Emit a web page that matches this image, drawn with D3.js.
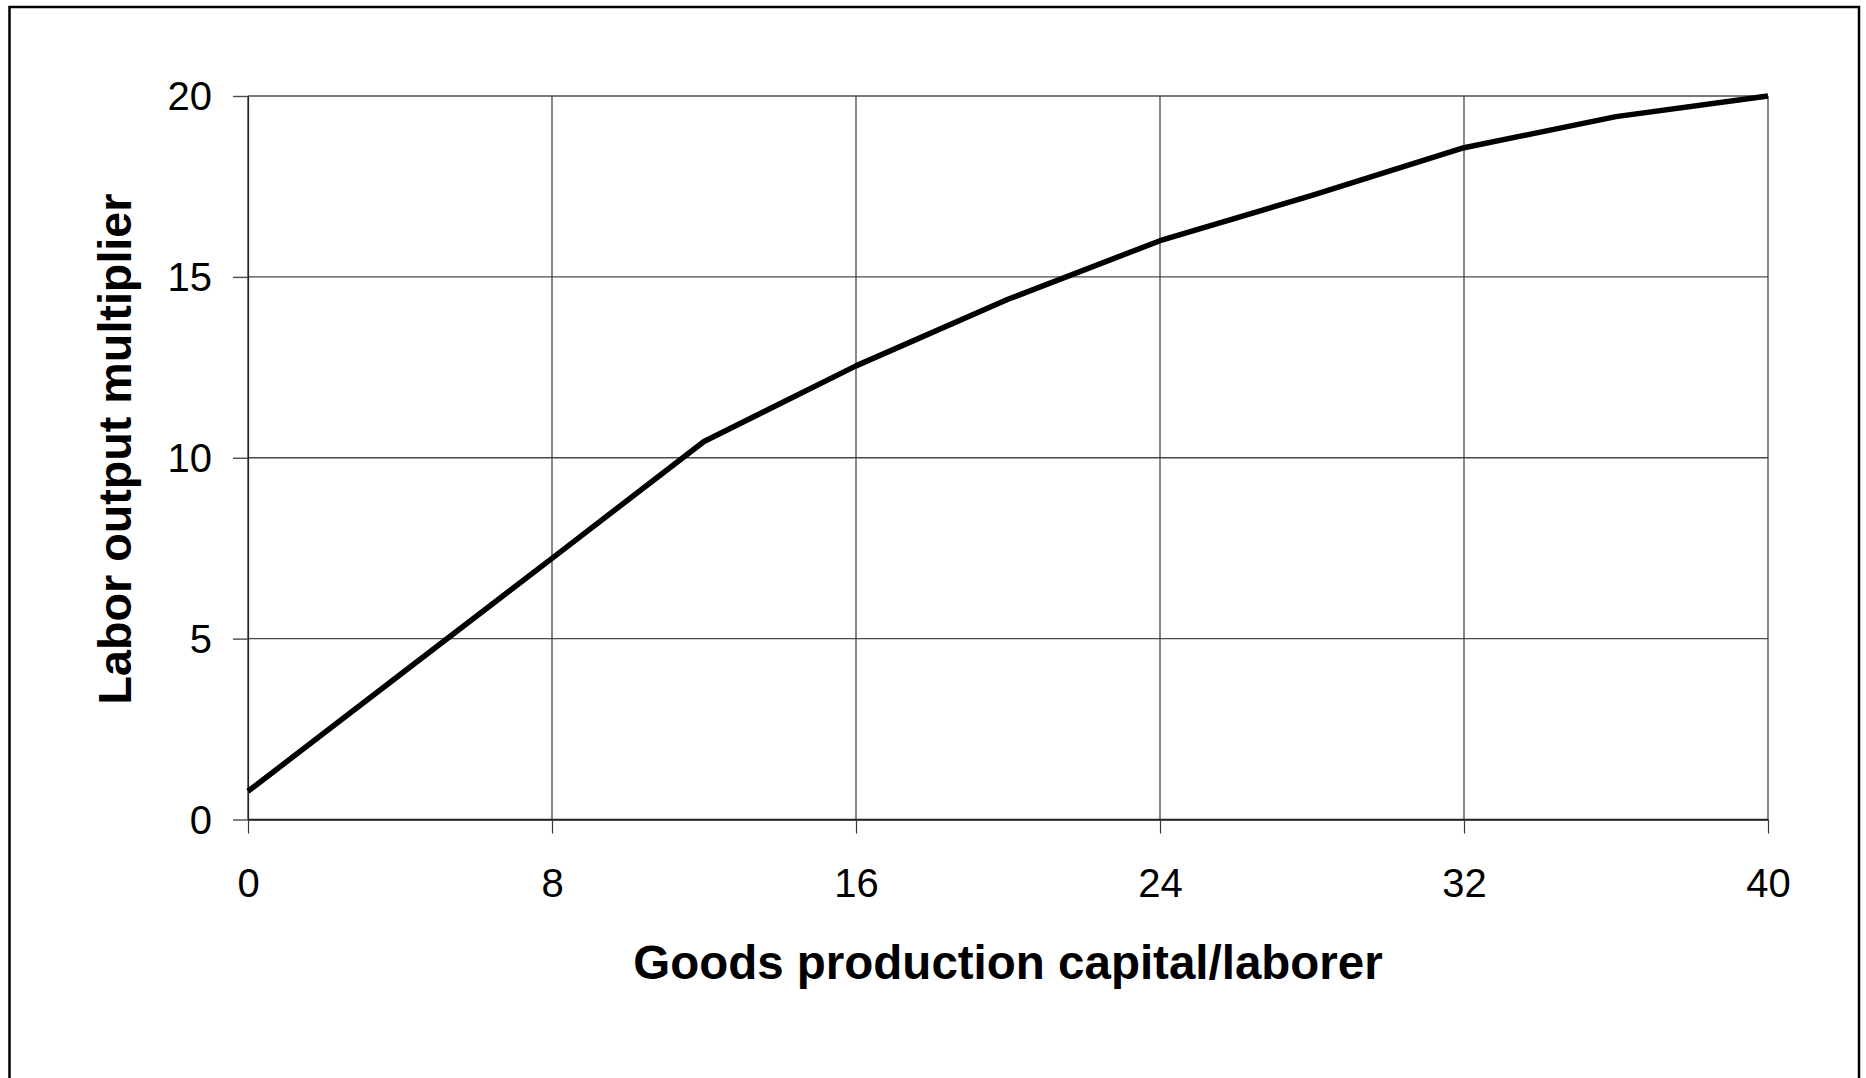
<!DOCTYPE html>
<html>
<head>
<meta charset="utf-8">
<script src="https://cdn.jsdelivr.net/npm/d3@7"></script>
<style>
  html, body { margin: 0; padding: 0; background: #fff; }
  svg { display: block; }
  text { font-family: "Liberation Sans", Arial, sans-serif; fill: #000; }
</style>
</head>
<body>
<svg id="chart" width="1866" height="1078"></svg>
<script>
// ---- data ----
const capitalPerLaborer = [0, 4, 8, 12, 16, 20, 24, 28, 32, 36, 40];
const outputMultiplier  = [0.78, 4.0, 7.22, 10.45, 12.54, 14.38, 16.0, 17.25, 18.57, 19.43, 20.0];
const xTicks = [0, 8, 16, 24, 32, 40];
const yTicks = [0, 5, 10, 15, 20];
const xTitle = "Goods production capital/laborer";
const yTitle = "Labor output multiplier";

// ---- layout ----
const svg = d3.select("#chart");
const plot = { left: 248, right: 1768, top: 96, bottom: 819.5 };

const x = d3.scaleLinear().domain([0, 40]).range([plot.left, plot.right]);
const y = d3.scaleLinear().domain([0, 20]).range([plot.bottom, plot.top]);

// outer frame
svg.append("rect")
  .attr("x", 9.5).attr("y", 7).attr("width", 1849.5).attr("height", 1090)
  .attr("fill", "none").attr("stroke", "#000").attr("stroke-width", 2.5);

// gridlines
const grid = svg.append("g");
grid.selectAll("line.h").data(yTicks).join("line")
  .attr("x1", plot.left).attr("x2", plot.right)
  .attr("y1", d => y(d)).attr("y2", d => y(d))
  .attr("stroke", d => d === 0 ? "#222" : "#4a4a4a").attr("stroke-width", 1.4);
grid.selectAll("line.v").data(xTicks).join("line")
  .attr("y1", plot.top).attr("y2", plot.bottom)
  .attr("x1", d => x(d)).attr("x2", d => x(d))
  .attr("stroke", d => d === 0 ? "#222" : "#3a3a3a").attr("stroke-width", 1.2);

// y axis
const yAxis = svg.append("g")
  .attr("transform", `translate(${plot.left},0)`)
  .call(d3.axisLeft(y).tickValues(yTicks).tickSize(15).tickPadding(21).tickSizeOuter(0));
yAxis.select(".domain").attr("stroke", "#222").attr("stroke-width", 1.2);
yAxis.selectAll(".tick line").attr("stroke", "#4a4a4a").attr("stroke-width", 1.4);
yAxis.selectAll(".tick text")
  .style("font-family", "'Liberation Sans', Arial, sans-serif")
  .style("font-size", "40px").attr("fill", "#000").attr("dy", "0.34em");

// x axis
const xAxis = svg.append("g")
  .attr("transform", `translate(0,${plot.bottom})`)
  .call(d3.axisBottom(x).tickValues(xTicks).tickSize(14).tickPadding(35).tickSizeOuter(0));
xAxis.select(".domain").attr("stroke", "#222").attr("stroke-width", 1.4);
xAxis.selectAll(".tick line").attr("stroke", "#3a3a3a").attr("stroke-width", 1.2);
xAxis.selectAll(".tick text")
  .style("font-family", "'Liberation Sans', Arial, sans-serif")
  .style("font-size", "40px").attr("fill", "#000").attr("dy", "0.71em");

// data line
const line = d3.line()
  .x((d, i) => x(capitalPerLaborer[i]))
  .y(d => y(d));
svg.append("path")
  .datum(outputMultiplier)
  .attr("d", line)
  .attr("fill", "none")
  .attr("stroke", "#000")
  .attr("stroke-width", 5.5)
  .attr("stroke-linejoin", "round");

// axis titles
svg.append("text")
  .attr("x", (plot.left + plot.right) / 2)
  .attr("y", 979)
  .attr("text-anchor", "middle")
  .style("font-size", "47.5px").style("font-weight", "bold")
  .text(xTitle);

svg.append("text")
  .attr("transform", `translate(131,449) rotate(-90)`)
  .attr("text-anchor", "middle")
  .style("font-size", "46.7px").style("font-weight", "bold")
  .text(yTitle);
</script>
</body>
</html>
